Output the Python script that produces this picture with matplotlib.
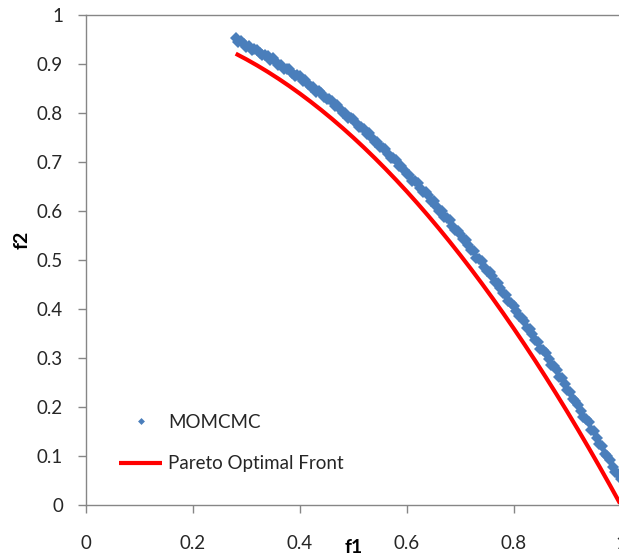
import matplotlib
matplotlib.use("Agg")
import matplotlib.pyplot as plt
from matplotlib.lines import Line2D

# Pareto optimal front (f1, f2)
front_f1 = [0.28, 0.30, 0.32, 0.34, 0.36, 0.38, 0.40, 0.42, 0.44, 0.46, 0.48, 0.50,
            0.52, 0.54, 0.56, 0.58, 0.60, 0.62, 0.64, 0.66, 0.68, 0.70, 0.72, 0.74,
            0.76, 0.78, 0.80, 0.82, 0.84, 0.86, 0.88, 0.90, 0.92, 0.94, 0.96, 0.98, 1.00]
front_f2 = [0.9216, 0.91, 0.8976, 0.8844, 0.8704, 0.8556, 0.84, 0.8236, 0.8064, 0.7884,
            0.7696, 0.75, 0.7296, 0.7084, 0.6864, 0.6636, 0.64, 0.6156, 0.5904, 0.5644,
            0.5376, 0.51, 0.4816, 0.4524, 0.4224, 0.3916, 0.36, 0.3276, 0.2944, 0.2604,
            0.2256, 0.19, 0.1536, 0.1164, 0.0784, 0.0396, 0.0]

# MOMCMC solutions (f1, f2)
momcmc_f1 = [0.280, 0.285, 0.290, 0.295, 0.300, 0.305, 0.310, 0.315, 0.320, 0.325,
             0.330, 0.335, 0.340, 0.345, 0.350, 0.355, 0.360, 0.365, 0.370, 0.375,
             0.380, 0.385, 0.390, 0.395, 0.400, 0.405, 0.410, 0.415, 0.420, 0.425,
             0.430, 0.435, 0.440, 0.445, 0.450, 0.455, 0.460, 0.465, 0.470, 0.475,
             0.480, 0.485, 0.490, 0.495, 0.500, 0.505, 0.510, 0.515, 0.520, 0.525,
             0.530, 0.535, 0.540, 0.545, 0.550, 0.555, 0.560, 0.565, 0.570, 0.575,
             0.580, 0.585, 0.590, 0.595, 0.600, 0.605, 0.610, 0.615, 0.620, 0.625,
             0.630, 0.635, 0.640, 0.645, 0.650, 0.655, 0.660, 0.665, 0.670, 0.675,
             0.680, 0.685, 0.690, 0.695, 0.700, 0.705, 0.710, 0.715, 0.720, 0.725,
             0.730, 0.735, 0.740, 0.745, 0.750, 0.755, 0.760, 0.765, 0.770, 0.775,
             0.780, 0.785, 0.790, 0.795, 0.800, 0.805, 0.810, 0.815, 0.820, 0.825,
             0.830, 0.835, 0.840, 0.845, 0.850, 0.855, 0.860, 0.865, 0.870, 0.875,
             0.880, 0.885, 0.890, 0.895, 0.900, 0.905, 0.910, 0.915, 0.920, 0.925,
             0.930, 0.935, 0.940, 0.945, 0.950, 0.955, 0.960, 0.965, 0.970, 0.975,
             0.980, 0.985, 0.990, 0.995, 1.000]
momcmc_f2 = [0.953, 0.945, 0.948, 0.941, 0.936, 0.938, 0.929, 0.931, 0.930, 0.923,
             0.918, 0.919, 0.917, 0.909, 0.912, 0.904, 0.898, 0.899, 0.890, 0.891,
             0.890, 0.882, 0.876, 0.877, 0.875, 0.866, 0.868, 0.860, 0.853, 0.854,
             0.844, 0.845, 0.842, 0.834, 0.828, 0.828, 0.825, 0.815, 0.817, 0.808,
             0.801, 0.801, 0.790, 0.791, 0.788, 0.779, 0.772, 0.772, 0.768, 0.758,
             0.759, 0.750, 0.741, 0.741, 0.730, 0.729, 0.726, 0.716, 0.709, 0.708,
             0.704, 0.693, 0.693, 0.684, 0.675, 0.674, 0.662, 0.661, 0.657, 0.647,
             0.639, 0.638, 0.632, 0.621, 0.621, 0.610, 0.601, 0.600, 0.587, 0.585,
             0.581, 0.570, 0.561, 0.560, 0.554, 0.542, 0.541, 0.530, 0.520, 0.518,
             0.505, 0.503, 0.497, 0.486, 0.477, 0.475, 0.468, 0.456, 0.454, 0.443,
             0.432, 0.429, 0.416, 0.413, 0.407, 0.395, 0.385, 0.382, 0.375, 0.362,
             0.360, 0.348, 0.337, 0.333, 0.319, 0.316, 0.309, 0.297, 0.286, 0.283,
             0.275, 0.261, 0.259, 0.246, 0.234, 0.230, 0.215, 0.211, 0.204, 0.191,
             0.180, 0.176, 0.168, 0.153, 0.150, 0.137, 0.124, 0.120, 0.104, 0.100,
             0.092, 0.078, 0.067, 0.062, 0.053]

x_ticks = [0, 0.2, 0.4, 0.6, 0.8, 1]
x_tick_labels = ["0", "0.2", "0.4", "0.6", "0.8", "1"]
y_ticks = [0, 0.1, 0.2, 0.3, 0.4, 0.5, 0.6, 0.7, 0.8, 0.9, 1]
y_tick_labels = ["0", "0.1", "0.2", "0.3", "0.4", "0.5", "0.6", "0.7", "0.8", "0.9", "1"]

BLUE = "#4a7ebb"
RED = "#ff0000"
GRAY = "#868686"
TEXT = "#262626"

plt.rcParams["font.family"] = ["Lato", "DejaVu Sans"]

W, H = 619, 559
fig = plt.figure(figsize=(W / 100, H / 100), dpi=100)
left, right, top, bottom = 86, 620.7, 15.3, 504.7
ax = fig.add_axes([left / W, 1 - bottom / H, (right - left) / W, (bottom - top) / H])

ax.plot(front_f1, front_f2, color=RED, linewidth=3.0, solid_capstyle="butt",
        label="Pareto Optimal Front", zorder=2, clip_on=False)
ax.plot(momcmc_f1, momcmc_f2, linestyle="none", marker="D", markersize=5.7,
        color=BLUE, markeredgewidth=0, label="MOMCMC", zorder=3, clip_on=False)

ax.set_xlim(0, 1)
ax.set_ylim(0, 1)
ax.set_xticks(x_ticks)
ax.set_xticklabels(x_tick_labels)
ax.set_yticks(y_ticks)
ax.set_yticklabels(y_tick_labels)

for side in ("left", "bottom", "top"):
    ax.spines[side].set_color(GRAY)
    ax.spines[side].set_linewidth(1.0)
ax.spines["right"].set_visible(False)

ax.tick_params(axis="both", direction="out", length=5.5, width=1.0, color=GRAY,
               labelsize=13.5, labelcolor=TEXT)
ax.tick_params(axis="y", pad=11)
ax.tick_params(axis="x", pad=16)

ax.set_xlabel("f1", fontsize=14, fontweight="bold", color="black")
ax.set_ylabel("f2", fontsize=14, fontweight="bold", color="black")
ax.xaxis.set_label_coords(0.5, -0.088)
ax.xaxis.label.set_va("center")
ax.yaxis.set_label_coords(-0.12, 0.541)
ax.yaxis.label.set_va("center")
ax.yaxis.label.set_ha("center")

handles = [
    Line2D([], [], linestyle="none", marker="D", markersize=3.5, color=BLUE,
           markeredgewidth=0),
    Line2D([], [], color=RED, linewidth=3.0, solid_capstyle="butt"),
]
fig.legend(handles, ["MOMCMC", "Pareto Optimal Front"], loc="upper left",
           bbox_to_anchor=(119 / W, 1 - 414 / H), bbox_transform=fig.transFigure,
           frameon=False, fontsize=13.5, handlelength=2.3, handletextpad=0.3,
           labelspacing=1.3, borderpad=0, borderaxespad=0, labelcolor=TEXT)

fig.savefig("out.png", dpi=100)
